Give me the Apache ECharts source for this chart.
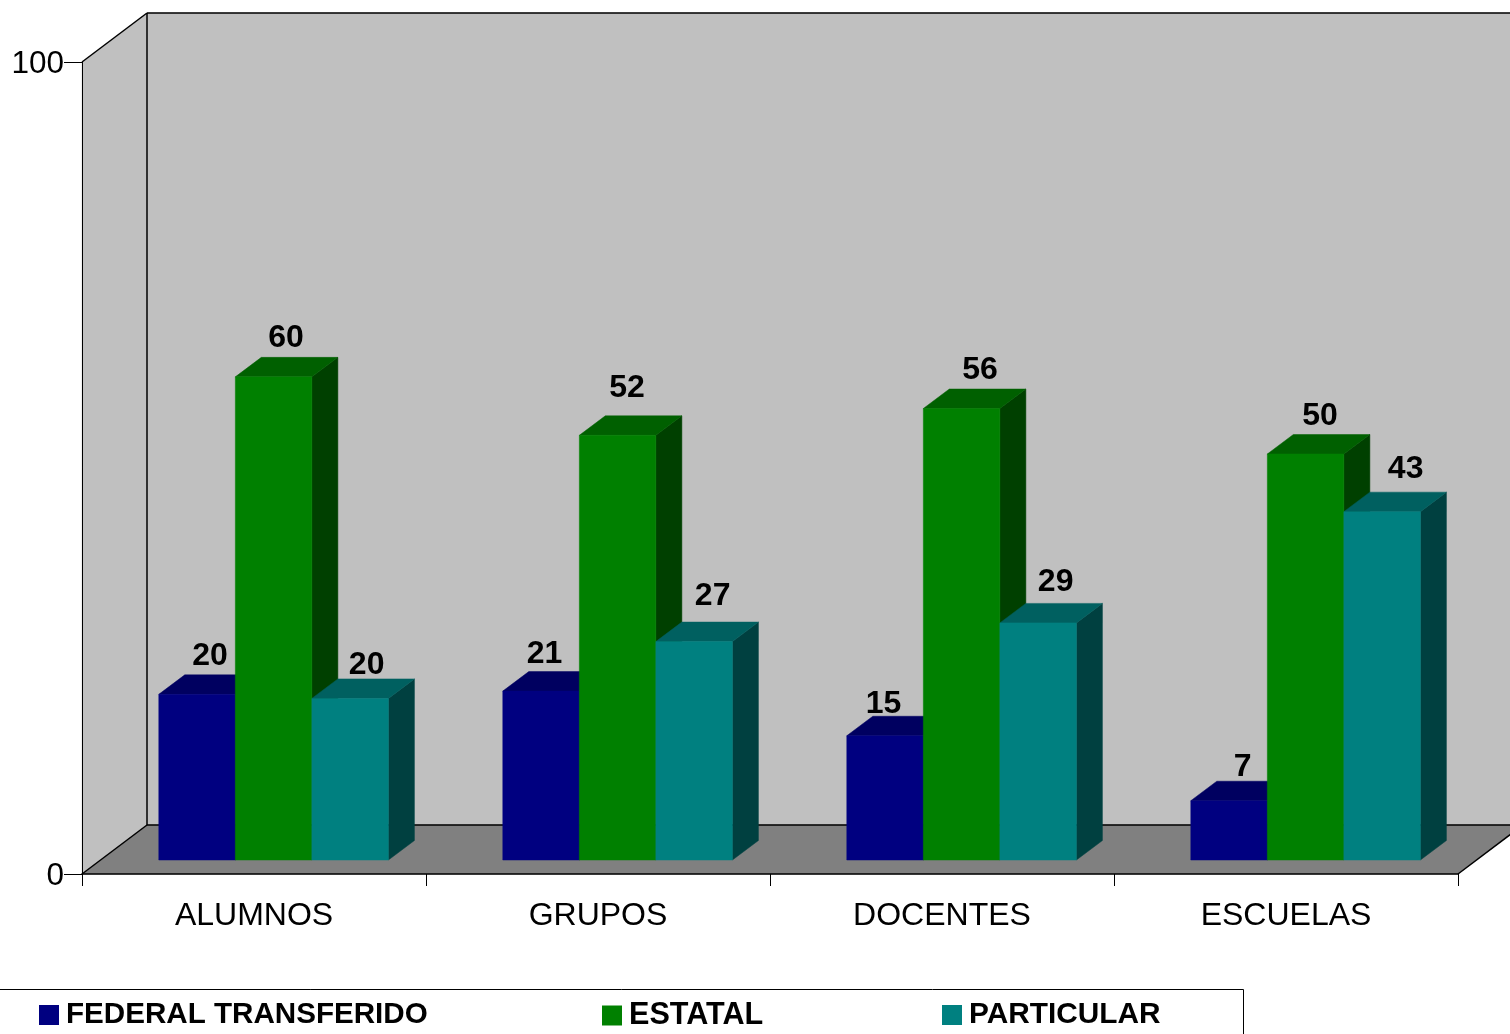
<!DOCTYPE html>
<html>
<head>
<meta charset="utf-8">
<style>html,body{margin:0;padding:0;background:#fff;overflow:hidden}#c{width:1510px;height:1034px}</style>
<script src="https://cdn.jsdelivr.net/npm/echarts@6/dist/echarts.min.js"></script>
</head>
<body>
<div id="c"></div>
<script>
const categories = ['ALUMNOS', 'GRUPOS', 'DOCENTES', 'ESCUELAS'];
const federal = [20.4, 20.8, 15.3, 7.3];
const estatal = [59.5, 52.3, 55.6, 50.0];
const particular = [19.9, 26.9, 29.2, 42.9];
const seriesNames = ['FEDERAL TRANSFERIDO', 'ESTATAL', 'PARTICULAR'];

const FONT = '"Liberation Sans", Arial, sans-serif';
const DEPTH_X = 65, DEPTH_Y = 49;       // wall depth
const BAR_DX = 19.6, BAR_DY = 14;       // bar offset from the front plane
const TOP_DX = 26, TOP_DY = 19.5;       // bar depth
// hand placement of the data labels in the original, relative to the default spot
const NUDGE = [
  [[0.5, 2], [-9, 3], [-14, 8], [1, 6]],
  [[0, 1], [-3, -7], [6, 2], [2, 2]],
  [[4, 7], [6, -5], [5, -1], [11, -2]]
];

function poly(points, fill, z2) {
  return { type: 'polygon', z2: z2 || 0, shape: { points }, style: { fill, stroke: fill, lineWidth: 0.5 } };
}
function edge(a, b) {
  return { type: 'line', z2: 5, shape: { x1: a[0], y1: a[1], x2: b[0], y2: b[1] },
           style: { stroke: '#000', lineWidth: 1.5, fill: null } };
}
function renderWalls(params, api) {
  const p0 = api.coord([0, 0]), p100 = api.coord([0, 100]);
  const band = api.size([1, 0])[0];
  const x0 = p0[0] - band / 2, y0 = p0[1], y1 = p100[1];
  const x1 = x0 + band * categories.length;
  const bx0 = x0 + DEPTH_X, bx1 = x1 + DEPTH_X, by0 = y0 - DEPTH_Y, by1 = y1 - DEPTH_Y;
  return { type: 'group', children: [
    poly([[bx0, by1], [bx1, by1], [bx1, by0], [bx0, by0]], '#c0c0c0'),
    poly([[x0, y1], [bx0, by1], [bx0, by0], [x0, y0]], '#c0c0c0'),
    poly([[x0, y0], [bx0, by0], [bx1, by0], [x1, y0]], '#808080'),
    edge([x0, y1], [bx0, by1]), edge([bx0, by1], [bx1, by1]), edge([bx0, by1], [bx0, by0]),
    edge([x0, y0], [bx0, by0]), edge([bx0, by0], [bx1, by0]), edge([x1, y0], [bx1, by0])
  ] };
}
function makeBar(slot, front, top, side) {
  return function (params, api) {
    const i = api.value(0), v = api.value(1);
    const band = api.size([1, 0])[0];
    const w = band * 0.2225;
    const c = api.coord([i, v]), b = api.coord([i, 0]);
    const xl = c[0] + BAR_DX + (slot - 1.5) * w, xr = xl + w;
    const yt = c[1] - BAR_DY, yb = b[1] - BAR_DY;
    const n = NUDGE[slot][i];
    return { type: 'group', children: [
      poly([[xr, yt], [xr + TOP_DX, yt - TOP_DY], [xr + TOP_DX, yb - TOP_DY], [xr, yb]], side),
      poly([[xl, yt], [xl + TOP_DX, yt - TOP_DY], [xr + TOP_DX, yt - TOP_DY], [xr, yt]], top),
      poly([[xl, yt], [xr, yt], [xr, yb], [xl, yb]], front, 1),
      { type: 'text', z2: 10, style: {
          x: (xl + xr) / 2 + 12.5 + n[0], y: yt - TOP_DY - 20.5 + n[1], text: String(Math.round(v)),
          align: 'center', verticalAlign: 'middle', fill: '#000',
          font: 'bold 32px ' + FONT } }
    ] };
  };
}
function rows(values) { return values.map((v, i) => [i, v]); }
function barSeries(name, values, slot, front, top, side) {
  return { type: 'custom', name, z: 2, coordinateSystem: 'cartesian2d', clip: false,
           itemStyle: { color: front }, renderItem: makeBar(slot, front, top, side),
           encode: { x: 0, y: 1 }, data: rows(values) };
}
function legendAt(name, left, size) {
  return { data: [{ name, icon: 'rect' }], left, top: 1000, padding: 0, orient: 'horizontal',
           itemWidth: 20, itemHeight: 20, selectedMode: false,
           textStyle: { fontFamily: FONT, fontWeight: 'bold', fontSize: size, color: '#000', padding: [2, 0, 0, 2] } };
}

const chart = echarts.init(document.getElementById('c'), null, { renderer: 'canvas' });
chart.setOption({
  animation: false,
  backgroundColor: '#fff',
  grid: { left: 82, right: 52, top: 62, bottom: 160 },
  xAxis: { type: 'category', data: categories, z: 3,
    axisLine: { show: true, lineStyle: { color: '#000', width: 1.5 } },
    axisTick: { show: true, length: 12, lineStyle: { color: '#000', width: 1 } },
    axisLabel: { fontFamily: FONT, fontSize: 32, color: '#000', margin: 26, interval: 0 } },
  yAxis: { type: 'value', min: 0, max: 100, interval: 100, z: 3, splitLine: { show: false },
    axisLine: { show: true, lineStyle: { color: '#000', width: 1 } },
    axisTick: { show: true, length: 18, lineStyle: { color: '#000', width: 1 } },
    axisLabel: { color: '#000', margin: 18, formatter: '{t|{value}}',
      rich: { t: { fontFamily: FONT, fontSize: 31.5, color: '#000', padding: [4, 0, 0, 0] } } } },
  legend: [legendAt(seriesNames[0], 39, 29.6), legendAt(seriesNames[1], 602, 30.6), legendAt(seriesNames[2], 942, 29.8)],
  graphic: [{ type: 'rect', silent: true, shape: { x: -3.5, y: 989.5, width: 1247, height: 60 },
              style: { fill: null, stroke: '#000', lineWidth: 1 } }],
  series: [
    { type: 'custom', name: 'walls', z: 1, clip: false, coordinateSystem: 'cartesian2d',
      renderItem: renderWalls, encode: { x: 0, y: 1 }, data: [[0, 0]] },
    barSeries(seriesNames[0], federal, 0, '#000080', '#000060', '#000040'),
    barSeries(seriesNames[1], estatal, 1, '#008000', '#006000', '#004000'),
    barSeries(seriesNames[2], particular, 2, '#008080', '#006060', '#004040')
  ]
});
</script>
</body>
</html>
